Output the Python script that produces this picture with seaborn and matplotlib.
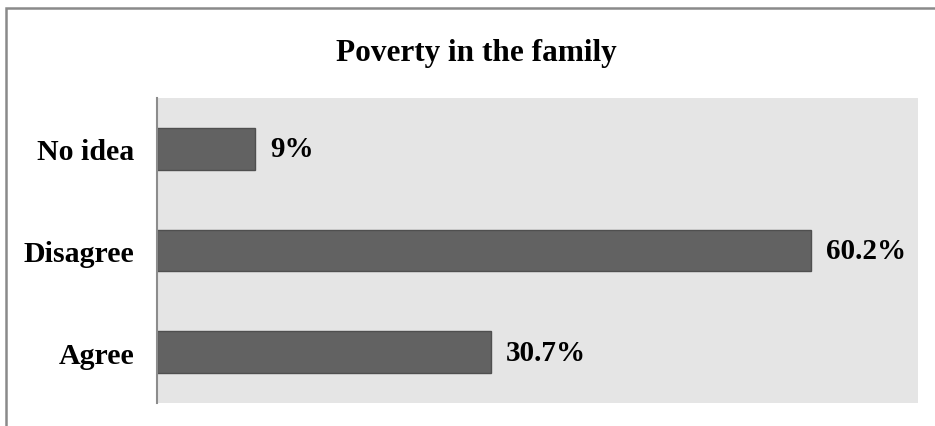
import matplotlib
matplotlib.use("Agg")
import matplotlib.pyplot as plt
import matplotlib.patches as mpatches
import seaborn as sns
import pandas as pd

categories = ["No idea", "Disagree", "Agree"]
percentages = [9.0, 60.2, 30.7]
value_labels = ["9%", "60.2%", "30.7%"]
title_text = "Poverty in the family"

sns.set_theme(style="white")
plt.rcParams["font.family"] = ["Liberation Serif", "DejaVu Serif"]

df = pd.DataFrame({"category": categories, "pct": percentages})

fig = plt.figure(figsize=(9.35, 4.27), dpi=100)
fig.patch.set_facecolor("white")

# outer frame around the chart
frame = mpatches.Rectangle((6 / 935, -0.1), 1.2, (427 - 9) / 427 + 0.1,
                           transform=fig.transFigure, fill=False,
                           edgecolor="#8a8a8a", linewidth=1.8, zorder=0)
fig.patches.append(frame)

ax = fig.add_axes([157 / 935, 23 / 427, 761 / 935, 305 / 427])
ax.set_facecolor("#e5e5e5")

sns.barplot(data=df, x="pct", y="category", order=categories, orient="h",
            color="#626262", saturation=1, width=0.41,
            edgecolor="#4f4f4f", linewidth=1.0, ax=ax)

ax.set_xlim(0, 70)
ax.set_ylim(2.5, -0.5)
ax.set_xlabel("")
ax.set_ylabel("")
ax.set_xticks([])
ax.tick_params(axis="y", length=0, pad=16.5)
for lbl in ax.get_yticklabels():
    lbl.set_fontweight("bold")
    lbl.set_fontsize(21.5)
    lbl.set_color("black")

for side in ["top", "right", "bottom"]:
    ax.spines[side].set_visible(False)
ax.spines["left"].set_color("#8c8c8c")
ax.spines["left"].set_linewidth(1.5)

for i, (v, txt) in enumerate(zip(percentages, value_labels)):
    ax.annotate(txt, xy=(v, i), xytext=(15, 0), textcoords="offset pixels",
                ha="left", va="center", fontsize=21, fontweight="bold",
                color="black")

fig.text(476 / 935, 1 - 54 / 427, title_text, ha="center", va="center",
         fontsize=22.5, fontweight="bold", color="black")

fig.savefig("out.png", dpi=100)
